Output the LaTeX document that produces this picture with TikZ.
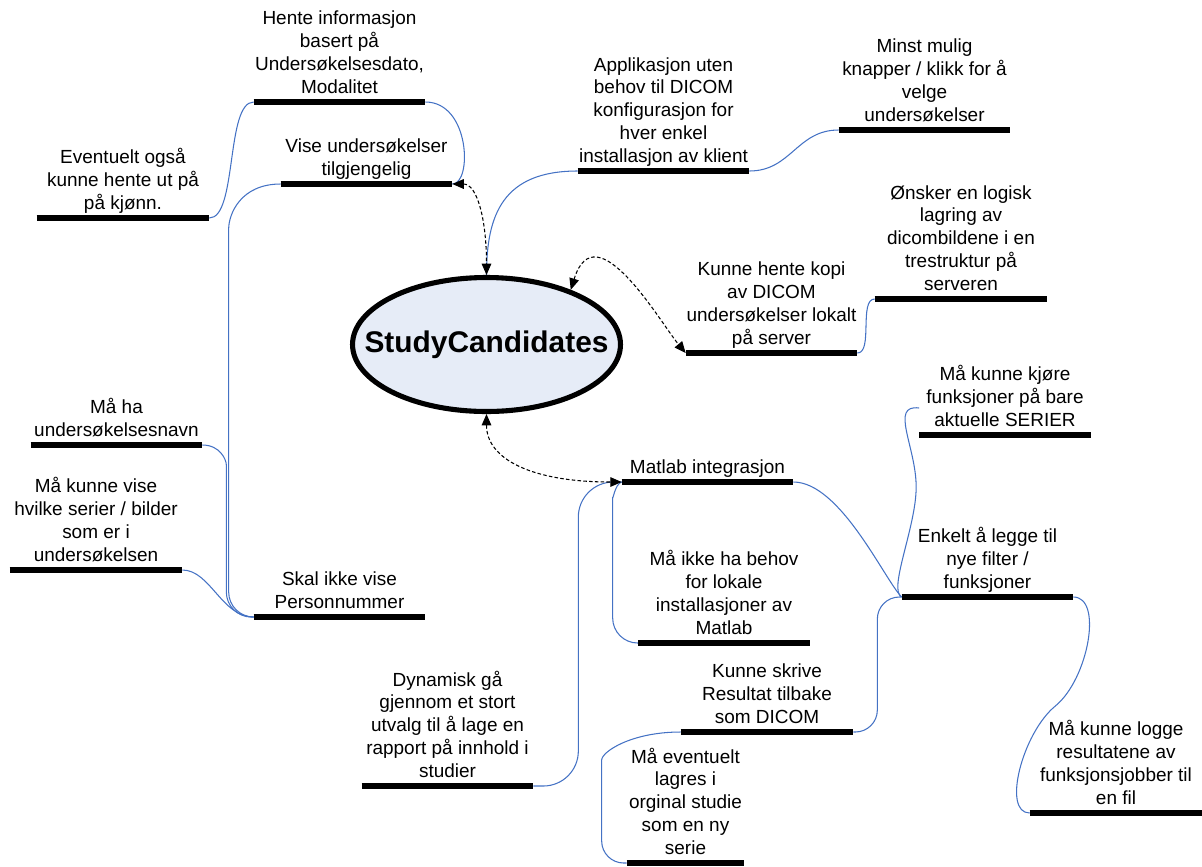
\documentclass[tikz,border=0pt]{standalone}
\usepackage{fontspec}
\setmainfont{Liberation Sans}
\usetikzlibrary{arrows.meta, shapes.geometric}
\definecolor{linkblue}{RGB}{68,114,196}
\definecolor{studyfill}{RGB}{230,236,247}
\tikzset{
  idea/.style={align=center, anchor=south, inner xsep=0pt, inner ysep=4.7pt,
    text depth=0pt, minimum width=#1, font=\fontsize{10.8}{13}\selectfont},
  idea/.default=3.42cm,
  bar/.style={line width=2.9pt},
  link/.style={draw=linkblue, line width=0.6pt},
  dlink/.style={dash pattern=on 2pt off 1.3pt, line width=0.6pt,
    {Triangle[length=6.5pt,width=5.5pt]}-{Triangle[length=6.5pt,width=5.5pt]}},
}
\begin{document}
\begin{tikzpicture}[x=0.02cm, y=-0.02cm]
\useasboundingbox (0,0) rectangle (1202,866);

\node[ellipse, draw, line width=2.9pt, fill=studyfill, minimum width=5.36cm,
  minimum height=2.68cm, inner sep=0pt,
  font=\fontsize{17}{20}\selectfont\bfseries] (study) at (486.5,344.5) {\makebox[0pt]{StudyCandidates}};

% left side
\node[idea] (hente) at (339.5,102) {Hente informasjon\\basert på\\Undersøkelsesdato,\\Modalitet};
\node[idea] (vise) at (366.5,184) {Vise undersøkelser\\tilgjengelig};
\node[idea=3.44cm] (eventuelt) at (123,218) {Eventuelt også\\kunne hente ut på\\på kjønn.};
\node[idea] (navn) at (116.5,445) {Må ha\\undersøkelsesnavn};
\node[idea=3.44cm] (serier) at (96,570) {Må kunne vise\\hvilke serier / bilder\\som er i\\undersøkelsen};
\node[idea] (personnr) at (339.5,617) {Skal ikke vise\\Personnummer};

% top right
\node[idea] (appl) at (663.5,171) {Applikasjon uten\\behov til DICOM\\konfigurasjon for\\hver enkel\\installasjon av klient};
\node[idea] (minst) at (924.5,130) {Minst mulig\\knapper / klikk for å\\velge\\undersøkelser};
\node[idea=3.44cm] (onsker) at (961,299) {Ønsker en logisk\\lagring av\\dicombildene i en\\trestruktur på\\serveren};
\node[idea] (kopi) at (771.5,353) {Kunne hente kopi\\av DICOM\\undersøkelser lokalt\\på server};

% bottom right
\node[idea] (kjore) at (1005,435) {Må kunne kjøre\\funksjoner på bare\\aktuelle SERIER};
\node[idea] (matlab) at (707.5,482) {Matlab integrasjon};
\node[idea] (enkelt) at (987.5,597) {Enkelt å legge til\\nye filter /\\funksjoner};
\node[idea] (behov) at (724,643) {Må ikke ha behov\\for lokale\\installasjoner av\\Matlab};
\node[idea] (dynamisk) at (447.5,786) {Dynamisk gå\\gjennom et stort\\utvalg til å lage en\\rapport på innhold i\\studier};
\node[idea=3.44cm] (skrive) at (767,732) {Kunne skrive\\Resultat tilbake\\som DICOM};
\node[idea=2.34cm] (lagres) at (685.5,863) {Må eventuelt\\lagres i\\orginal studie\\som en ny\\serie};
\node[idea=3.44cm] (logge) at (1116,813) {Må kunne logge\\resultatene av\\funksjonsjobber til\\en fil};

% connectors
\draw[link] (eventuelt.south east) .. controls +(28,0) and +(-28,0) .. (hente.south west);
\draw[link] (hente.south east) .. controls +(45,0) and +(20,0) .. (vise.south east);
\draw[link, rounded corners=0.5cm] (vise.south west) .. controls +(-40,0) and +(0,-40) .. ++(-52,70) |- (personnr.south west);
\draw[link, rounded corners=0.5cm] (navn.south east) .. controls +(18,0) and +(0,-30) .. ++(24,45) |- (personnr.south west);
\draw[link] (serier.south east) .. controls +(28,0) and +(-32,0) .. (personnr.south west);

\draw[link] (appl.south west) .. controls +(-75,0) and +(0,-60) .. (study.north);
\draw[link] (appl.south east) .. controls +(42,0) and +(-42,0) .. (minst.south west);
\draw[link] (kopi.south east) .. controls +(16,0) and +(-16,0) .. (onsker.south west);

\draw[link] (matlab.south east) .. controls +(47,0) and +(-17,-17) .. (enkelt.south west);
\draw[link] (kjore.south west) ++(0,-27) .. controls +(-30,-4) and +(0,-40) .. ++(-3,79)
  .. controls +(0,40) and +(-14,-7) .. (enkelt.south west);
\draw[link, rounded corners=0.5cm] (matlab.south west) .. controls +(-7,2) and +(0,-20) .. ++(-9,40) |- (behov.south west);
\draw[link, rounded corners=0.7cm] (dynamisk.south east) -- ++(45,0) |- (matlab.south west);
\draw[link, rounded corners=0.44cm] (skrive.south east) -- ++(24,0) |- (enkelt.south west);
\draw[link, rounded corners=0.44cm] (skrive.south west) .. controls +(-50,0) and +(0,-30) .. ++(-79,50) |- (lagres.south west);
\draw[link] (enkelt.south east) .. controls +(30,0) and +(33,-27) .. ++(-18,109)
  .. controls +(-33,27) and +(-28,0) .. (logge.south west);

% dashed links to the centre
\draw[dlink] (vise.south east) .. controls +(25,0) and +(0,-55) .. (study.north);
\draw[dlink] (study.33) .. controls +(25,-80) and +(-25,-30) .. (kopi.south west);
\draw[dlink] (study.south) .. controls +(0,45) and +(-90,0) .. (matlab.south west);

% underline bars
\foreach \n in {hente,vise,eventuelt,navn,serier,personnr,appl,minst,onsker,kopi,
  kjore,matlab,enkelt,behov,dynamisk,skrive,lagres,logge}
  \draw[bar] (\n.south west) -- (\n.south east);
\end{tikzpicture}
\end{document}
